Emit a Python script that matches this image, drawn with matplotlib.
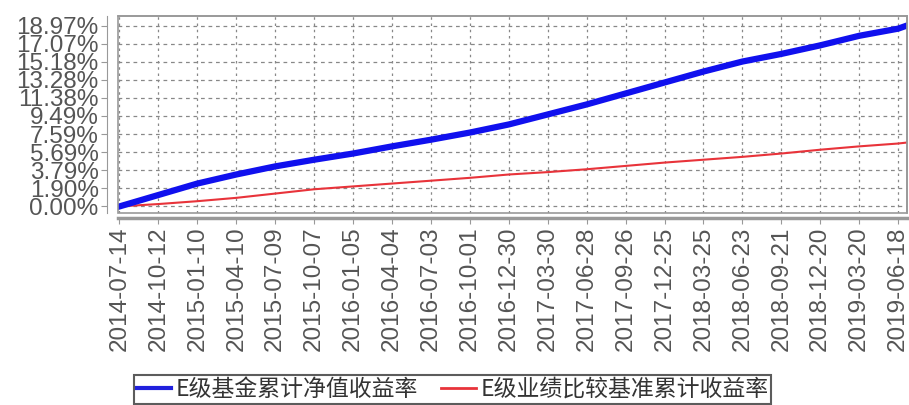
import matplotlib
matplotlib.use("Agg")
import matplotlib.pyplot as plt
from matplotlib.patches import Rectangle
from matplotlib.lines import Line2D
import pandas as pd

tick_labels = ["2014-07-14", "2014-10-12", "2015-01-10", "2015-04-10", "2015-07-09",
               "2015-10-07", "2016-01-05", "2016-04-04", "2016-07-03", "2016-10-01",
               "2016-12-30", "2017-03-30", "2017-06-28", "2017-09-26", "2017-12-25",
               "2018-03-25", "2018-06-23", "2018-09-21", "2018-12-20", "2019-03-20",
               "2019-06-18"]
dates = tick_labels + ["2019-07-08"]
fund_return = [0.0, 1.2, 2.4, 3.35, 4.2, 4.9, 5.55, 6.3, 7.0, 7.75, 8.6, 9.65, 10.7,
               11.85, 13.0, 14.15, 15.2, 16.0, 16.9, 17.9, 18.65, 18.97]
bench_return = [0.0, 0.25, 0.55, 0.9, 1.35, 1.8, 2.1, 2.4, 2.7, 3.0, 3.35, 3.6, 3.9,
                4.25, 4.6, 4.9, 5.2, 5.55, 5.95, 6.3, 6.6, 6.7]
y_ticks = [0.00, 1.90, 3.79, 5.69, 7.59, 9.49, 11.38, 13.28, 15.18, 17.07, 18.97]
series_names = ["E级基金累计净值收益率", "E级业绩比较基准累计收益率"]

plt.rcParams["font.family"] = ["Liberation Sans", "DejaVu Sans"]

x = pd.to_datetime(dates)
xt = pd.to_datetime(tick_labels)

fig = plt.figure(figsize=(9.09, 4.05), dpi=100)
ax = fig.add_axes([0.130, 0.475, 0.868, 0.486])

# spines first (set_position resets ticks)
for s in ["top", "right"]:
    ax.spines[s].set_color("#999999")
    ax.spines[s].set_linewidth(1.2)
ax.spines["left"].set_position(("outward", 8))
ax.spines["bottom"].set_position(("outward", 4))
ax.spines["left"].set_color("#999999")
ax.spines["bottom"].set_color("#999999")
ax.spines["bottom"].set_linewidth(2.5)
ax.add_patch(Rectangle((0, 0), 1, 1, transform=ax.transAxes, fill=False,
                       edgecolor="#999999", lw=1.2, zorder=5, clip_on=False))

ax.plot(x, bench_return, color="#e8333a", lw=1.5, zorder=3)
ax.plot(x, fund_return, color="#1010ee", lw=4.5, zorder=4)

ax.set_xlim(pd.Timestamp("2014-07-11"), pd.Timestamp("2019-07-09"))
ax.set_ylim(-0.65, 20.0)

ax.set_xticks(xt)
ax.set_xticklabels(tick_labels)
ax.set_yticks(y_ticks)
ax.set_yticklabels([f"{v:.2f}%" for v in y_ticks])
ax.tick_params(axis="x", labelrotation=90, labelsize=17.5)
ax.tick_params(axis="y", labelsize=17.5)
ax.tick_params(axis="both", colors="#999999", length=4, pad=2, labelcolor="#555555")

ax.grid(True, axis="y", linestyle=(0, (3, 3)), color="#888888", lw=0.9)
ax.grid(True, axis="x", linestyle=(0, (2, 3)), color="#888888", lw=0.9)

handles = [Line2D([], [], color="#2020dd", lw=3), Line2D([], [], color="#e8333a", lw=2)]
leg = fig.legend(handles, series_names, loc="lower center", bbox_to_anchor=(0.498, 0.003),
                 ncol=2, frameon=True, fancybox=False, edgecolor="#333333",
                 prop={"family": ["Noto Sans CJK SC", "DejaVu Sans"], "size": 16.5},
                 handlelength=1.5, handletextpad=0.2, columnspacing=1.0,
                 borderpad=0.12, borderaxespad=0.0)
leg.get_frame().set_linewidth(1.5)
for t in leg.get_texts():
    t.set_color("#333333")

fig.savefig("out.png", dpi=100)
